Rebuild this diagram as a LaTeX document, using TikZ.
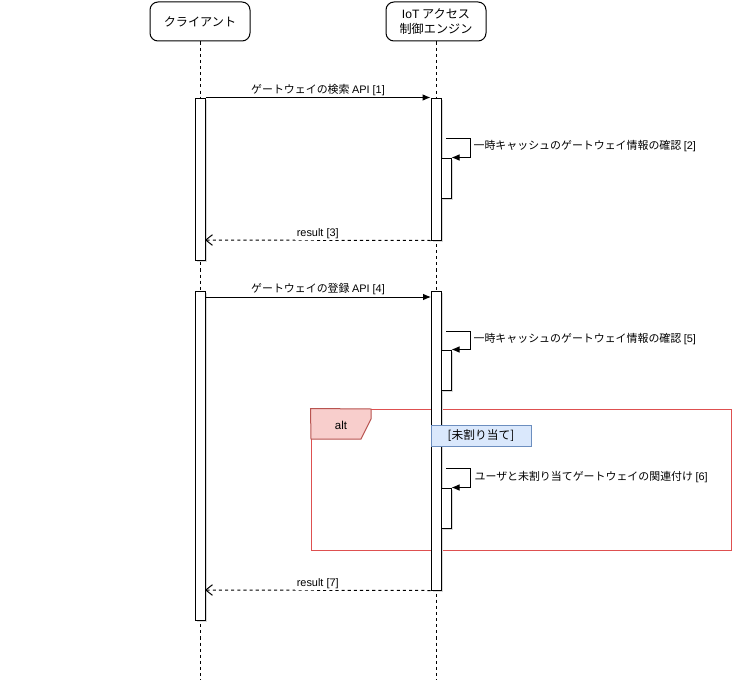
\documentclass[tikz,border=0pt]{standalone}
\usepackage{fontspec}
\setmainfont{Noto Sans CJK JP}
\newfontfamily\lat{Liberation Sans}
\usetikzlibrary{arrows.meta,fit,calc}
\definecolor{altred}{RGB}{222,80,80}
\definecolor{tabfill}{HTML}{F8CECC}
\definecolor{tabline}{HTML}{B85450}
\definecolor{condfill}{HTML}{DAE8FC}
\definecolor{condline}{HTML}{6C8EBF}
\tikzset{
  actor/.style={draw, rounded corners=6pt, fill=white, inner sep=0pt, line width=0.75pt},
  lifeline/.style={line width=0.7pt, dash pattern=on 2.3pt off 2.3pt},
  act/.style={draw, fill=white, inner sep=0pt, line width=0.75pt},
  msg/.style={line width=0.75pt, -{Latex[length=6pt,width=5pt]}},
  ret/.style={line width=0.75pt, dash pattern=on 2.3pt off 2.3pt, -{Straight Barb[length=5pt,width=8pt]}},
  lbl/.style={font=\fontsize{8.2pt}{9.5pt}\selectfont, inner sep=1pt, fill=white},
  shad/.style={fill=black!15},
}
\begin{document}
\begin{tikzpicture}[x=0.75pt,y=-0.75pt]
\useasboundingbox[fill=white] (0,0) rectangle (742,692);
% actors
\node[actor, fit={(150,2)(250,41)}] (client) {};
\node[font=\fontsize{9.1pt}{11pt}\selectfont] (clientlbl) at (client.center) {クライアント};
\node[actor, fit={(386,2)(486,41)}] (engine) {};
\node[align=center, font=\fontsize{9.1pt}{11pt}\selectfont] (enginelbl) at (engine.center) {{\lat IoT} アクセス\\制御エンジン};
% lifelines
\coordinate (clend) at (200,680);
\coordinate (enend) at (436,680);
\draw[lifeline] (client.south) -- (clend);
\draw[lifeline] (engine.south) -- (enend);
% alt frame
\node[draw=altred, line width=0.75pt, inner sep=0pt, fit={(311,409)(731,550)}] (alt) {};
\draw[fill=tabfill, draw=tabline, line width=0.75pt] (alt.north west) -- (371,409) -- (371,419) -- (361,439) -- (311,439) -- cycle;
\node[font=\fontsize{8.6pt}{10pt}\selectfont\lat] (altlbl) at (341,425) {alt};
% activations
\fill[shad] (197,100) rectangle (207,262);
\node[act, fit={(195,98)(205,260)}] (c1) {};
\fill[shad] (433,100) rectangle (443,242);
\node[act, fit={(431,98)(441,240)}] (e1) {};
\fill[shad] (443,160) rectangle (453,200);
\node[act, fit={(441,158)(451,198)}] (s2) {};
\fill[shad] (197,293) rectangle (207,622);
\node[act, fit={(195,291)(205,620)}] (c2) {};
\fill[shad] (433,293) rectangle (443,592);
\node[act, fit={(431,291)(441,590)}] (e2) {};
\fill[shad] (443,352) rectangle (453,392);
\node[act, fit={(441,350)(451,390)}] (s5) {};
\fill[shad] (443,490) rectangle (453,530);
\node[act, fit={(441,488)(451,528)}] (s6) {};
% condition
\node[draw=condline, fill=condfill, line width=0.75pt, inner sep=0pt, fit={(431,425)(531,446)}] (cond) {};
\node[font=\fontsize{8.8pt}{10pt}\selectfont] (condlbl) at (cond.center) {[未割り当て]};
% messages
\draw[msg] (c1.north east) -- node[lbl, above=0pt] {ゲートウェイの検索 {\lat API [1]}} (e1.north west);
\coordinate (m2) at (446,138);
\draw[msg] (m2) -- ++(24,0) |- (s2.north east);
\node[lbl, anchor=west] (l2) at (472,146) {一時キャッシュのゲートウェイ情報の確認 {\lat [2]}};
\coordinate (r3e) at (205,240);
\draw[ret] (e1.south west) -- node[lbl, above=0pt] {\lat result [3]} (r3e);
\coordinate (m4s) at (205,297);
\coordinate (m4e) at (431,297);
\draw[msg] (m4s) -- node[lbl, above=0pt] {ゲートウェイの登録 {\lat API [4]}} (m4e);
\coordinate (m5) at (446,331);
\draw[msg] (m5) -- ++(24,0) |- (s5.north east);
\node[lbl, anchor=west] (l5) at (472,339) {一時キャッシュのゲートウェイ情報の確認 {\lat [5]}};
\coordinate (m6) at (446,468);
\draw[msg] (m6) -- ++(24,0) |- (s6.north east);
\node[lbl, anchor=west] (l6) at (473,477) {ユーザと未割り当てゲートウェイの関連付け {\lat [6]}};
\coordinate (r7e) at (205,590);
\draw[ret] (e2.south west) -- node[lbl, above=0pt] {\lat result [7]} (r7e);
\end{tikzpicture}
\end{document}
